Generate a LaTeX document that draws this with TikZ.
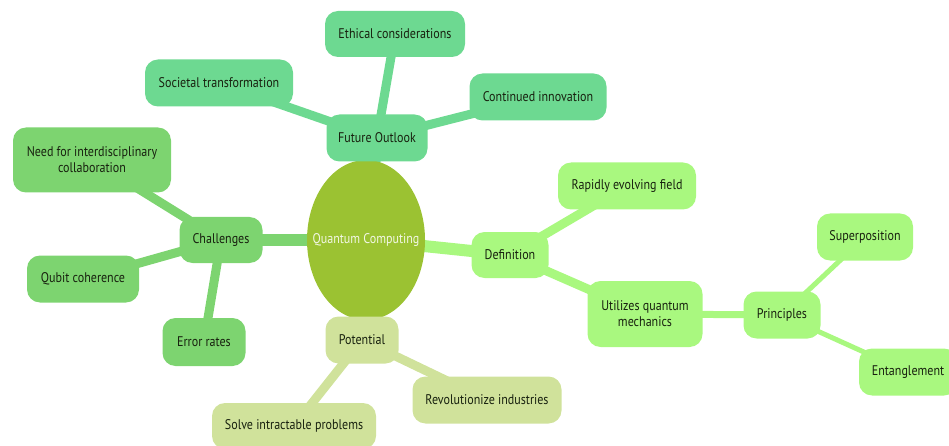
\documentclass[tikz,border=0pt]{standalone}
\usepackage{fontspec}
\setmainfont{PT Sans}[FakeStretch=0.86]
\usetikzlibrary{shapes.geometric}
\pgfdeclarelayer{background}
\pgfsetlayers{background,main}

\definecolor{rootc}{HTML}{9BC232}
\definecolor{futc}{HTML}{6DD991}
\definecolor{chac}{HTML}{7DD470}
\definecolor{defc}{HTML}{A9F87F}
\definecolor{potc}{HTML}{D0E29B}
\definecolor{inkc}{HTML}{18210F}
\definecolor{rootink}{HTML}{F2F7E4}

\tikzset{
  topic/.style={rounded corners=13pt, inner sep=0pt, align=center,
    text=inkc, font=\fontsize{14}{16}\selectfont},
  futbox/.style={topic, fill=futc},
  chabox/.style={topic, fill=chac},
  defbox/.style={topic, fill=defc},
  potbox/.style={topic, fill=potc},
  link/.style={line cap=round},
  lvlone/.style={link, line width=12pt},
  lvltwo/.style={link, line width=9pt},
  lvlthree/.style={link, line width=7pt},
  lvlfour/.style={link, line width=5pt},
}

\begin{document}
\begin{tikzpicture}[x=1pt,y=-1pt]
\useasboundingbox (0,0) rectangle (949,446);

% central idea
\node[ellipse, fill=rootc, minimum width=118pt, minimum height=160pt, inner sep=0pt,
  text=rootink, font=\fontsize{14}{16}\selectfont] (qc) at (366,240)
  {\makebox[0pt]{Quantum Computing}};

% Future Outlook branch
\node[futbox, minimum width=101pt, minimum height=47pt] (fut) at (377,138) {Future Outlook};
\node[futbox, minimum width=140pt, minimum height=46pt] (eth) at (395,34) {Ethical considerations};
\node[futbox, minimum width=148pt, minimum height=47pt] (soc) at (219,83) {Societal transformation};
\node[futbox, minimum width=137pt, minimum height=47pt] (con) at (538,97) {Continued innovation};

% Challenges branch
\node[chabox, minimum width=83pt, minimum height=46pt] (cha) at (221,240) {Challenges};
\node[chabox, minimum width=158pt, minimum height=65pt] (need) at (92,160) {Need for interdisciplinary\\collaboration};
\node[chabox, minimum width=112pt, minimum height=47pt] (qub) at (83,279) {Qubit coherence};
\node[chabox, minimum width=83pt, minimum height=48pt] (err) at (204,342) {Error rates};

% Potential branch
\node[potbox, minimum width=73pt, minimum height=47pt] (pot) at (362,340) {Potential};
\node[potbox, minimum width=164pt, minimum height=46pt] (sol) at (294,426) {Solve intractable problems};
\node[potbox, minimum width=149pt, minimum height=47pt] (rev) at (487,400) {Revolutionize industries};

% Definition branch
\node[defbox, minimum width=77pt, minimum height=46pt] (def) at (510,255) {Definition};
\node[defbox, minimum width=138pt, minimum height=47pt] (rap) at (627,186) {Rapidly evolving field};
\node[defbox, minimum width=115pt, minimum height=66pt] (uti) at (645,314) {Utilizes quantum\\mechanics};
\node[defbox, minimum width=77pt, minimum height=47pt] (pri) at (782,315) {Principles};
\node[defbox, minimum width=96pt, minimum height=47pt] (sup) at (865,237) {Superposition};
\node[defbox, minimum width=98pt, minimum height=47pt] (ent) at (908,372) {Entanglement};

% connectors, under the boxes
\begin{pgfonlayer}{background}
  \draw[lvlone, futc] (qc.center) -- (fut.center);
  \draw[lvlone, chac] (qc.center) -- (cha.center);
  \draw[lvlone, defc] (qc.center) -- (def.center);
  \draw[lvlone, potc] (qc.center) -- (pot.center);

  \draw[lvltwo, futc] (fut.center) -- (eth.center);
  \draw[lvltwo, futc] (fut.center) -- (soc.center);
  \draw[lvltwo, futc] (fut.center) -- (con.center);

  \draw[lvltwo, chac] (cha.center) -- (need.center);
  \draw[lvltwo, chac] (cha.center) -- (qub.center);
  \draw[lvltwo, chac] (cha.center) -- (err.center);

  \draw[lvltwo, potc] (pot.center) -- (sol.center);
  \draw[lvltwo, potc] (pot.center) -- (rev.center);

  \draw[lvltwo, defc] (def.center) -- (rap.center);
  \draw[lvltwo, defc] (def.center) -- (uti.center);
  \draw[lvlthree, defc] (uti.center) -- (pri.center);
  \draw[lvlfour, defc] (pri.center) -- (sup.center);
  \draw[lvlfour, defc] (pri.center) -- (ent.center);
\end{pgfonlayer}
\end{tikzpicture}
\end{document}
